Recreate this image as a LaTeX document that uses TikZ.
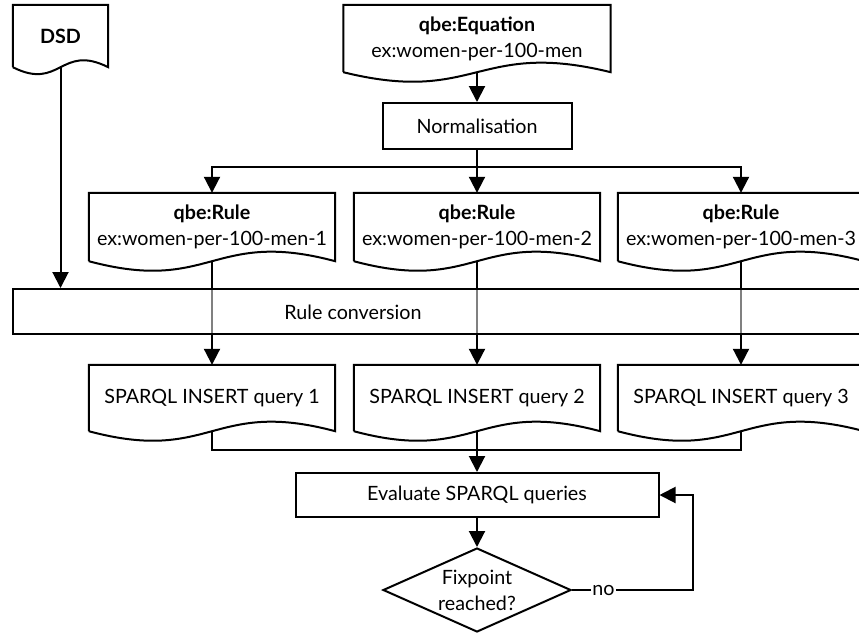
\documentclass[tikz,border=0pt]{standalone}
\usepackage{fontspec}
\setmainfont{Lato}
\usetikzlibrary{arrows.meta,shapes.geometric,calc}

% outline of a "document" node: straight top and sides, wavy bottom
\newcommand{\docoutline}[2]{%
  \draw[docline] (#1.south west) -- (#1.north west) -- (#1.north east) -- (#1.south east)
    .. controls ($(#1.south)+(0,#2)$) and ($(#1.south)+(0,-#2)$) .. (#1.south west);}

\tikzset{
  every node/.style={font=\fontsize{19.7}{26}\selectfont, inner sep=0pt},
  docline/.style={line width=2pt, line join=miter},
  docnode/.style={rectangle, align=center},
  procbox/.style={rectangle, draw, line width=2pt, fill=white},
  decision/.style={diamond, draw, line width=2pt, fill=white, aspect=2.2,
    minimum width=188pt, minimum height=84pt},
  flow/.style={line width=2pt},
  arr/.style={flow, -{Triangle[length=16pt, width=16pt]}},
}

\begin{document}
\begin{tikzpicture}[x=1pt, y=1pt]
\useasboundingbox (0,0) rectangle (859,-633);
\clip (0,0) rectangle (859,-633);
\fill[white] (0,0) rectangle (859,-633);

% inputs
\node[docnode, minimum width=95pt, minimum height=62pt] (dsd) at (60.5,-36) {\bfseries DSD};
\node[docnode, minimum width=267pt, minimum height=67pt] (eq) at (477,-38.5)
  {\bfseries qbe:Equation\\ex:women-per-100-men};
\docoutline{dsd}{24}
\docoutline{eq}{33}

\node[procbox, minimum width=189pt, minimum height=46pt] (norm) at (477,-126) {Normalisation};

% rules
\node[docnode, minimum width=246pt, minimum height=68pt] (r1) at (212,-227)
  {\bfseries qbe:Rule\\ex:women-per-100-men-1};
\node[docnode, minimum width=246pt, minimum height=68pt] (r2) at (477,-227)
  {\bfseries qbe:Rule\\ex:women-per-100-men-2};
\node[docnode, minimum width=246pt, minimum height=68pt] (r3) at (741,-227)
  {\bfseries qbe:Rule\\ex:women-per-100-men-3};
\docoutline{r1}{33}
\docoutline{r2}{33}
\docoutline{r3}{33}

% generated queries
\node[docnode, minimum width=246pt, minimum height=66pt] (s1) at (212,-398) {SPARQL INSERT query 1};
\node[docnode, minimum width=246pt, minimum height=66pt] (s2) at (477,-398) {SPARQL INSERT query 2};
\node[docnode, minimum width=246pt, minimum height=66pt] (s3) at (741,-398) {SPARQL INSERT query 3};
\docoutline{s1}{33}
\docoutline{s2}{33}
\docoutline{s3}{33}

% rule-to-query arrows, seen through the conversion band
\draw[arr] (r1.south) -- (s1.north);
\draw[arr] (r2.south) -- (s2.north);
\draw[arr] (r3.south) -- (s3.north);

\node[rectangle, draw, line width=2pt, fill=white, fill opacity=0.5,
  minimum width=892pt, minimum height=45pt] (conv) at (459,-311.5) {};
\node (convtext) at (353,-312) {Rule conversion};

\node[procbox, minimum width=363pt, minimum height=44pt] (eval) at (477,-495) {Evaluate SPARQL queries};
\node[decision] (fix) at (477,-590) {};
\node[align=center] (fixtext) at (fix) {Fixpoint\\reached?};

% connectors
\coordinate (split) at (477,-167);
\coordinate (join) at (477,-450);
\coordinate (loop) at (693,-590);

\draw[arr] (dsd.south) -- (dsd.south |- conv.north);
\draw[arr] (eq.south) -- (norm.north);
\draw[flow] (norm.south) -- (split);
\draw[arr] (split) -| (r1.north);
\draw[arr] (split) -| (r3.north);
\draw[arr] (split) -- (r2.north);

\draw[flow] (s1.south) |- (join) -| (s3.south);
\draw[arr] (s2.south) -- (eval.north);
\draw[arr] (eval.south) -- (fix.north);
\draw[arr] (fix.east) -- node[pos=0.26, fill=white, inner sep=1pt] {no} (loop) |- (eval.east);
\end{tikzpicture}
\end{document}
